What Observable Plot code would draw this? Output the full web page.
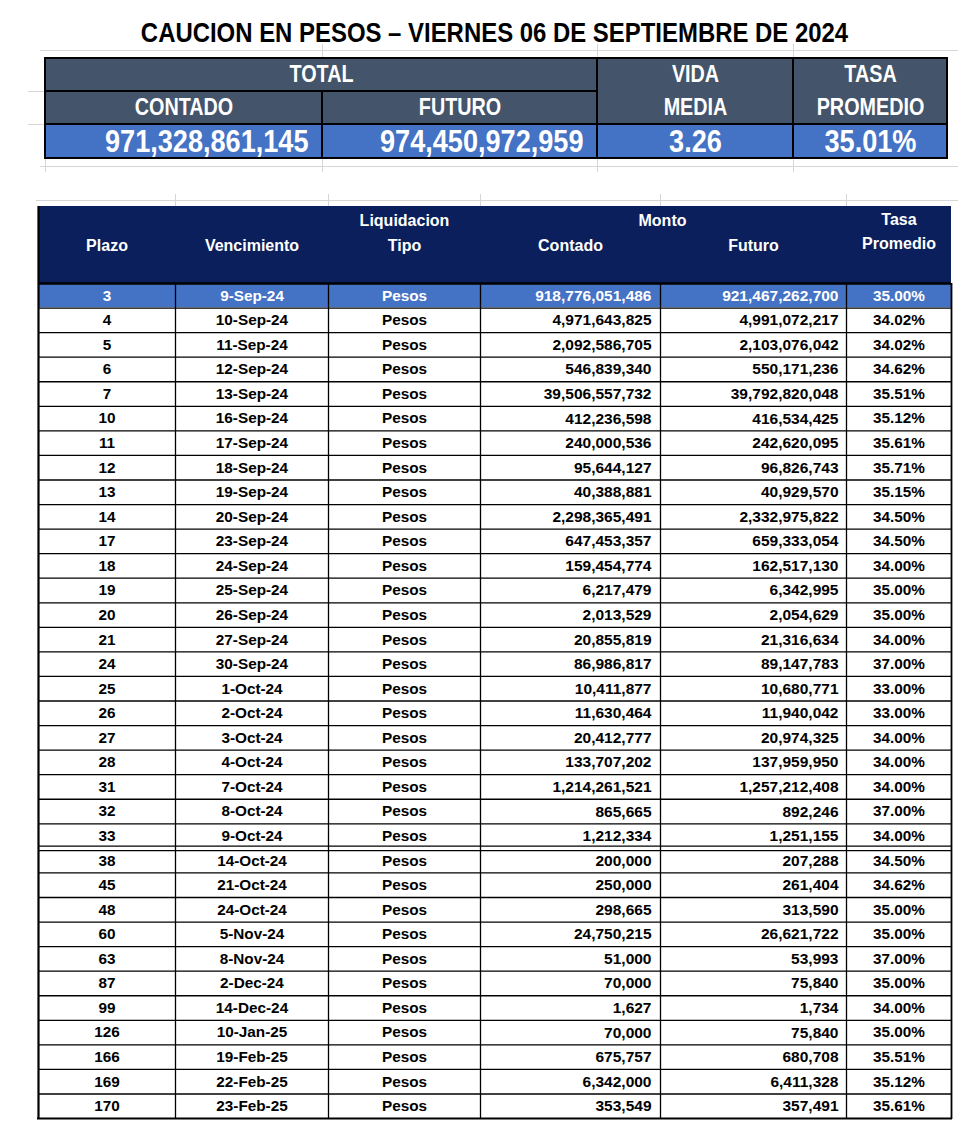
<!DOCTYPE html>
<html>
<head>
<meta charset="utf-8">
<script src="https://cdn.jsdelivr.net/npm/d3@7"></script>
<script src="https://cdn.jsdelivr.net/npm/@observablehq/plot@0.6"></script>
<style>
  html, body { margin: 0; padding: 0; background: #ffffff; }
  #chart svg { display: block; }
</style>
</head>
<body>
<div id="chart"></div>
<script>
// ---------------- DATA ----------------
const title = "CAUCION EN PESOS – VIERNES 06 DE SEPTIEMBRE DE 2024";

const summaryHeaders = ["TOTAL", "CONTADO", "FUTURO", "VIDA", "MEDIA", "TASA", "PROMEDIO"];
const totalContado = 971328861145;
const totalFuturo = 974450972959;
const vidaMedia = 3.26;
const tasaPromedio = 35.01;

const tableHeaders = ["Plazo", "Vencimiento", "Liquidacion", "Tipo", "Monto", "Contado", "Futuro", "Tasa", "Promedio"];

const plazo = [3, 4, 5, 6, 7, 10, 11, 12, 13, 14, 17, 18, 19, 20, 21, 24, 25, 26, 27, 28, 31, 32, 33,
  38, 45, 48, 60, 63, 87, 99, 126, 166, 169, 170];

const vencimiento = ["9-Sep-24", "10-Sep-24", "11-Sep-24", "12-Sep-24", "13-Sep-24", "16-Sep-24",
  "17-Sep-24", "18-Sep-24", "19-Sep-24", "20-Sep-24", "23-Sep-24", "24-Sep-24", "25-Sep-24",
  "26-Sep-24", "27-Sep-24", "30-Sep-24", "1-Oct-24", "2-Oct-24", "3-Oct-24", "4-Oct-24",
  "7-Oct-24", "8-Oct-24", "9-Oct-24", "14-Oct-24", "21-Oct-24", "24-Oct-24", "5-Nov-24",
  "8-Nov-24", "2-Dec-24", "14-Dec-24", "10-Jan-25", "19-Feb-25", "22-Feb-25", "23-Feb-25"];

const tipo = plazo.map(() => "Pesos");

const contado = [918776051486, 4971643825, 2092586705, 546839340, 39506557732, 412236598,
  240000536, 95644127, 40388881, 2298365491, 647453357, 159454774, 6217479, 2013529,
  20855819, 86986817, 10411877, 11630464, 20412777, 133707202, 1214261521, 865665, 1212334,
  200000, 250000, 298665, 24750215, 51000, 70000, 1627, 70000, 675757, 6342000, 353549];

const futuro = [921467262700, 4991072217, 2103076042, 550171236, 39792820048, 416534425,
  242620095, 96826743, 40929570, 2332975822, 659333054, 162517130, 6342995, 2054629,
  21316634, 89147783, 10680771, 11940042, 20974325, 137959950, 1257212408, 892246, 1251155,
  207288, 261404, 313590, 26621722, 53993, 75840, 1734, 75840, 680708, 6411328, 357491];

const tasa = [35.00, 34.02, 34.02, 34.62, 35.51, 35.12, 35.61, 35.71, 35.15, 34.50, 34.50,
  34.00, 35.00, 35.00, 34.00, 37.00, 33.00, 33.00, 34.00, 34.00, 34.00, 37.00, 34.00,
  34.50, 34.62, 35.00, 35.00, 37.00, 35.00, 34.00, 35.00, 35.51, 35.12, 35.61];

// ---------------- LAYOUT & STYLE ----------------
const W = 980, H = 1137;
const S = {xs: [45, 322, 597, 793, 947], ys: [58, 91, 124, 158]};          // summary grid
const T = {cols: [38, 175, 328, 480, 660, 846, 951], headTop: 206, bodyTop: 283, rowH: 24.56, groupBreak: 23};
const C = {slate: "#44546A", blue: "#4472C4", navy: "#0B1F5C", grid: "#d6d6d6"};
const sans = "'Liberation Sans', Arial, Helvetica, sans-serif";
// horizontal condensing factors (narrow fonts are not installed)
const condense = {title: 0.855, head: 0.86, value: 0.875};

const fmtInt = d3.format(",");
const fmtPct = v => d3.format(".2f")(v) + "%";

const rows = plazo.map((p, i) => ({
  i, plazo: p, venc: vencimiento[i], tipo: tipo[i], contado: contado[i], futuro: futuro[i], tasa: tasa[i]
}));
const rowTop = i => T.bodyTop + i * T.rowH;
const rowMid = i => rowTop(i) + T.rowH / 2;
const bodyBottom = rowTop(rows.length);
const colMid = k => (T.cols[k] + T.cols[k + 1]) / 2;

// summary cells
const summaryCells = [
  {x1: S.xs[0], x2: S.xs[2], y1: S.ys[0], y2: S.ys[1], fill: C.slate},
  {x1: S.xs[0], x2: S.xs[1], y1: S.ys[1], y2: S.ys[2], fill: C.slate},
  {x1: S.xs[1], x2: S.xs[2], y1: S.ys[1], y2: S.ys[2], fill: C.slate},
  {x1: S.xs[2], x2: S.xs[3], y1: S.ys[0], y2: S.ys[2], fill: C.slate},
  {x1: S.xs[3], x2: S.xs[4], y1: S.ys[0], y2: S.ys[2], fill: C.slate},
  {x1: S.xs[0], x2: S.xs[1], y1: S.ys[2], y2: S.ys[3], fill: C.blue},
  {x1: S.xs[1], x2: S.xs[2], y1: S.ys[2], y2: S.ys[3], fill: C.blue},
  {x1: S.xs[2], x2: S.xs[3], y1: S.ys[2], y2: S.ys[3], fill: C.blue},
  {x1: S.xs[3], x2: S.xs[4], y1: S.ys[2], y2: S.ys[3], fill: C.blue}
];
const sMid = (a, b) => (a + b) / 2;
const summaryHeaderText = [
  {t: summaryHeaders[0], x: sMid(S.xs[0], S.xs[2]), y: sMid(S.ys[0], S.ys[1])},
  {t: summaryHeaders[1], x: sMid(S.xs[0], S.xs[1]), y: sMid(S.ys[1], S.ys[2])},
  {t: summaryHeaders[2], x: sMid(S.xs[1], S.xs[2]), y: sMid(S.ys[1], S.ys[2])},
  {t: summaryHeaders[3], x: sMid(S.xs[2], S.xs[3]), y: sMid(S.ys[0], S.ys[1])},
  {t: summaryHeaders[4], x: sMid(S.xs[2], S.xs[3]), y: sMid(S.ys[1], S.ys[2])},
  {t: summaryHeaders[5], x: sMid(S.xs[3], S.xs[4]), y: sMid(S.ys[0], S.ys[1])},
  {t: summaryHeaders[6], x: sMid(S.xs[3], S.xs[4]), y: sMid(S.ys[1], S.ys[2])}
];
const vy = sMid(S.ys[2], S.ys[3]) + 1;
const summaryValuesRight = [
  {t: fmtInt(totalContado), x: S.xs[1] - 14, y: vy},
  {t: fmtInt(totalFuturo), x: S.xs[2] - 14, y: vy}
];
const summaryValuesCenter = [
  {t: d3.format(".2f")(vidaMedia), x: sMid(S.xs[2], S.xs[3]), y: vy},
  {t: fmtPct(tasaPromedio), x: sMid(S.xs[3], S.xs[4]), y: vy}
];

// main header labels
const l1 = 220, l2 = 245;
const headerText = [
  {t: tableHeaders[0], x: colMid(0), y: l2},
  {t: tableHeaders[1], x: colMid(1), y: l2},
  {t: tableHeaders[2], x: colMid(2), y: l1},
  {t: tableHeaders[3], x: colMid(2), y: l2},
  {t: tableHeaders[4], x: T.cols[4] + 2, y: l1},
  {t: tableHeaders[5], x: colMid(3), y: l2},
  {t: tableHeaders[6], x: colMid(4), y: l2},
  {t: tableHeaders[7], x: colMid(5), y: l1 - 1},
  {t: tableHeaders[8], x: colMid(5), y: l2 - 2}
];

// row boundaries (interior)
const rowLines = d3.range(1, rows.length).filter(k => k !== T.groupBreak).map(k => rowTop(k));
const breakY = rowTop(T.groupBreak);

// faint spreadsheet gridlines
const faintH = [
  {y: 50, x1: 40, x2: 958}, {y: 166, x1: 40, x2: 958}, {y: 200, x1: 36, x2: 958},
  {y: S.ys[1], x1: 28, x2: S.xs[0]}, {y: S.ys[2], x1: 28, x2: S.xs[0]}
];
const faintV = [
  ...[S.xs[1], S.xs[2], S.xs[3]].map(x => ({x, y1: 44, y2: S.ys[0]})),
  ...[S.xs[0], S.xs[1], S.xs[2], S.xs[3]].map(x => ({x, y1: S.ys[3], y2: 172})),
  ...T.cols.slice(1, -1).map(x => ({x, y1: 194, y2: T.headTop}))
];

const txt = (data, opts) => Plot.text(data, {lineAnchor: "middle", fontWeight: "bold", fontFamily: sans, ...opts});
const inkOf = d => d.i === 0 ? "#fff" : "#000";

const chart = Plot.plot({
  width: W, height: H, margin: 0,
  x: {domain: [0, W], range: [0, W], axis: null},
  y: {domain: [0, H], range: [0, H], axis: null},
  style: {background: "#ffffff"},
  marks: [
    // faint gridlines
    Plot.ruleY(faintH, {y: "y", x1: "x1", x2: "x2", stroke: C.grid, strokeWidth: 1}),
    Plot.ruleX(faintV, {x: "x", y1: "y1", y2: "y2", stroke: C.grid, strokeWidth: 1}),

    // title
    txt([title], {x: () => 494, y: () => 33, text: d => d, fontSize: 28, fill: "#000", className: "cond-title"}),

    // summary table
    Plot.rect(summaryCells, {x1: "x1", x2: "x2", y1: "y1", y2: "y2", fill: "fill", stroke: "#000", strokeWidth: 2}),
    txt(summaryHeaderText, {x: "x", y: "y", text: "t", fill: "#fff", fontSize: 23, className: "cond-head"}),
    txt(summaryValuesRight, {x: "x", y: "y", text: "t", textAnchor: "end", fill: "#fff", fontSize: 31, className: "cond-value"}),
    txt(summaryValuesCenter, {x: "x", y: "y", text: "t", textAnchor: "middle", fill: "#fff", fontSize: 31, className: "cond-value"}),

    // main table header
    Plot.rect([0], {x1: () => T.cols[0], x2: () => T.cols[6], y1: () => T.headTop, y2: () => T.bodyTop, fill: C.navy}),
    txt(headerText, {x: "x", y: "y", text: "t", fill: "#fff", fontSize: 16}),

    // body fills
    Plot.rect(rows, {x1: () => T.cols[0], x2: () => T.cols[6], y1: d => rowTop(d.i), y2: d => rowTop(d.i + 1),
      fill: d => d.i === 0 ? C.blue : "#ffffff"}),

    // body lines
    Plot.ruleY(rowLines, {y: d => d, x1: () => T.cols[0], x2: () => T.cols[6], stroke: "#000", strokeWidth: 1.3}),
    Plot.ruleY([breakY - 2.2, breakY + 2.2], {y: d => d, x1: () => T.cols[0], x2: () => T.cols[6], stroke: "#000", strokeWidth: 1.3}),
    Plot.ruleX(T.cols.slice(1, -1), {x: d => d, y1: () => T.bodyTop, y2: () => bodyBottom, stroke: "#000", strokeWidth: 1.3}),
    Plot.ruleY([T.bodyTop], {y: d => d, x1: () => T.cols[0], x2: () => T.cols[6], stroke: "#000", strokeWidth: 2.5}),
    Plot.ruleY([bodyBottom], {y: d => d, x1: () => T.cols[0] - 1, x2: () => T.cols[6] + 1, stroke: "#000", strokeWidth: 2}),
    Plot.ruleX([T.cols[0]], {x: d => d, y1: () => T.headTop, y2: () => bodyBottom + 1, stroke: "#000", strokeWidth: 2.2}),
    Plot.ruleX([T.cols[6]], {x: d => d, y1: () => T.bodyTop, y2: () => bodyBottom + 1, stroke: "#000", strokeWidth: 1.8}),

    // body text
    txt(rows, {x: () => colMid(0), y: d => rowMid(d.i), text: d => String(d.plazo), fill: inkOf, fontSize: 15.3}),
    txt(rows, {x: () => colMid(1), y: d => rowMid(d.i), text: "venc", fill: inkOf, fontSize: 15.3}),
    txt(rows, {x: () => colMid(2), y: d => rowMid(d.i), text: "tipo", fill: inkOf, fontSize: 15.3}),
    txt(rows, {x: () => T.cols[4] - 9, y: d => rowMid(d.i), text: d => fmtInt(d.contado), textAnchor: "end", fill: inkOf, fontSize: 15.5}),
    txt(rows, {x: () => T.cols[5] - 8, y: d => rowMid(d.i), text: d => fmtInt(d.futuro), textAnchor: "end", fill: inkOf, fontSize: 15.5}),
    txt(rows, {x: () => colMid(5), y: d => rowMid(d.i), text: d => fmtPct(d.tasa), fill: inkOf, fontSize: 15.3})
  ]
});

document.getElementById("chart").appendChild(chart);

// condense wide bold text horizontally around its own anchor (stand-in for narrow fonts)
for (const [key, f] of Object.entries(condense)) {
  d3.select(chart).selectAll(`.cond-${key} text`).each(function () {
    const t = this.getAttribute("transform") || "";
    const x = +this.getAttribute("x") || 0;
    const y = +this.getAttribute("y") || 0;
    this.setAttribute("transform", `${t} translate(${x},${y}) scale(${f},1) translate(${-x},${-y})`.trim());
  });
}
</script>
</body>
</html>
